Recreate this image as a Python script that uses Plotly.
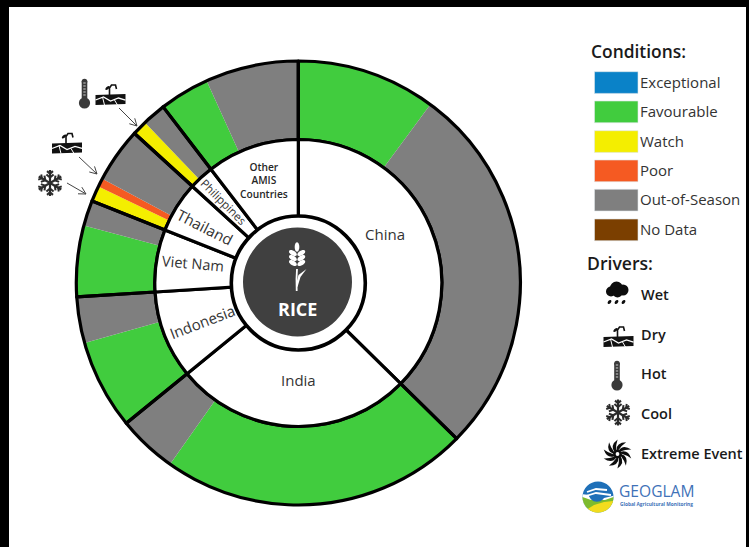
import math
import plotly.graph_objects as go

W, H = 749, 547

# ---- data (share of production, in degrees of the circle) ----
countries = ["China", "India", "Indonesia", "Viet Nam", "Thailand", "Philippines", "Other AMIS Countries"]
country_share = [134.5, 96.3, 35.6, 25.3, 20.7, 10.1, 37.5]

condition_names = ["Exceptional", "Favourable", "Watch", "Poor", "Out-of-Season", "No Data"]
condition_colors = ["#0A82C8", "#41CC3E", "#F4EE00", "#F55A22", "#7F7F7F", "#7B3F00"]

segment_condition = ["Favourable", "Out-of-Season",
                     "Favourable", "Out-of-Season",
                     "Favourable", "Out-of-Season",
                     "Favourable", "Out-of-Season",
                     "Watch", "Poor", "Out-of-Season",
                     "Watch", "Out-of-Season",
                     "Favourable", "Out-of-Season"]
segment_share = [36.5, 98.0,
                 80.8, 15.5,
                 23.5, 12.1,
                 18.6, 6.7,
                 4.1, 2.2, 14.4,
                 3.9, 6.2,
                 13.1, 24.4]

driver_names = ["Wet", "Dry", "Hot", "Cool", "Extreme Event"]

# ---- helpers: pixel position -> paper fraction ----
CX, CY, R_OUT, R_IN, R_HUB, R_DARK = 298.3, 283.0, 222.0, 143.5, 67.0, 54.5
color_of = dict(zip(condition_names, condition_colors))
shapes, annos = [], []


def px(x):
    return x / W


def py(y):
    return 1 - y / H


def domain(r):
    return dict(x=[px(CX - r), px(CX + r)], y=[py(CY + r), py(CY - r)])


def rect(x0, y0, x1, y1, fill, line=None, lw=0):
    shapes.append(dict(type="rect", xref="paper", yref="paper", x0=px(x0), x1=px(x1), y0=py(y0), y1=py(y1),
                       fillcolor=fill, line=dict(color=line or fill, width=lw)))


def circle(cx, cy, r, fill, line=None, lw=0):
    shapes.append(dict(type="circle", xref="paper", yref="paper", x0=px(cx - r), x1=px(cx + r),
                       y0=py(cy - r), y1=py(cy + r), fillcolor=fill,
                       line=dict(color=line or fill, width=lw)))


def path(d, fill="rgba(0,0,0,0)", line="rgba(0,0,0,0)", lw=0):
    shapes.append(dict(type="path", xref="paper", yref="paper", path=d, fillcolor=fill,
                       line=dict(color=line, width=lw)))


def poly(pts, fill):
    d = "M" + " L".join(f"{px(x):.5f},{py(y):.5f}" for x, y in pts) + " Z"
    path(d, fill=fill)


def polyline(pts, color, lw):
    d = "M" + " L".join(f"{px(x):.5f},{py(y):.5f}" for x, y in pts)
    path(d, line=color, lw=lw)


def ellipse(cx, cy, a, b, deg, fill, n=20):
    t = math.radians(deg)
    pts = []
    for i in range(n):
        u = 2 * math.pi * i / n
        x, y = a * math.cos(u), b * math.sin(u)
        pts.append((cx + x * math.cos(t) - y * math.sin(t), cy + x * math.sin(t) + y * math.cos(t)))
    poly(pts, fill)


def text(x, y, s, size, color="#333333", weight=400, angle=0, anchor="left", family="Open Sans"):
    annos.append(dict(xref="paper", yref="paper", x=px(x), y=py(y), text=s, showarrow=False,
                      xanchor=anchor, yanchor="middle", textangle=angle,
                      font=dict(family=family, size=size, color=color, weight=weight)))


def arrow(x0, y0, x1, y1):
    a = math.atan2(y1 - y0, x1 - x0)
    polyline([(x0, y0), (x1, y1)], "#444444", 1)
    for s in (-1, 1):
        b = a + math.pi + s * 0.5
        polyline([(x1, y1), (x1 + 8 * math.cos(b), y1 + 8 * math.sin(b))], "#444444", 1)


def thermometer(cx, top):
    rect(cx - 2.8, top + 2, cx + 2.8, top + 22, "#3a3a3a")
    circle(cx, top + 2.5, 2.8, "#3a3a3a")
    circle(cx, top + 24, 5.6, "#3a3a3a")
    for k in range(5):
        polyline([(cx - 1.2, top + 4 + 3 * k), (cx + 1.2, top + 4 + 3 * k)], "#cccccc", 1)


def dry(cx, cy):
    # slab
    poly([(cx - 15, cy + 1), (cx + 15, cy), (cx + 15, cy + 10), (cx - 15, cy + 11)], "#111111")
    polyline([(cx - 15, cy + 6), (cx - 7, cy + 3), (cx, cy + 7), (cx + 8, cy + 4), (cx + 15, cy + 6)], "white", 1.3)
    polyline([(cx - 8, cy + 3), (cx - 6, cy + 11)], "white", 1)
    polyline([(cx + 4, cy + 6), (cx + 7, cy + 11)], "white", 1)
    # sprout
    polyline([(cx - 1, cy + 1), (cx - 1, cy - 6), (cx + 1, cy - 9), (cx + 5, cy - 9), (cx + 6, cy - 5)], "#111111", 1.6)
    ellipse(cx - 3, cy - 6, 2.6, 1.3, -40, "#111111")


def snowflake(cx, cy, r):
    c = "#2b2b2b"
    for k in range(6):
        a = math.radians(60 * k + 90)
        ux, uy = math.cos(a), math.sin(a)
        polyline([(cx, cy), (cx + r * ux, cy + r * uy)], c, 2.2)
        for f, s in [(0.42, 0.36), (0.72, 0.3)]:
            bx, by = cx + f * r * ux, cy + f * r * uy
            for sgn in (-1, 1):
                b = a + sgn * math.radians(50)
                polyline([(bx, by), (bx + s * r * math.cos(b), by + s * r * math.sin(b))], c, 2)


def cloud(cx, cy):
    c = "#0d0d0d"
    for dx, dy, r in [(-6.5, 1.5, 5), (-1, -2, 6.5), (5.5, 0, 5.5), (0, 2.5, 5)]:
        circle(cx + dx, cy + dy, r, c)
    for dx in (-8, -1, 6):
        ellipse(cx + dx, cy + 12, 2.3, 1.5, -50, c)


def swirl(cx, cy, r):
    c = "#0d0d0d"
    n = 10
    for k in range(n):
        a = 2 * math.pi * k / n
        a2 = a + 0.95
        a3 = a + 0.45
        p0 = (cx + 0.25 * r * math.cos(a), cy + 0.25 * r * math.sin(a))
        p1 = (cx + r * math.cos(a2), cy + r * math.sin(a2))
        q1 = (cx + 0.8 * r * math.cos(a + 0.2), cy + 0.8 * r * math.sin(a + 0.2))
        p2 = (cx + 0.25 * r * math.cos(a + 0.5), cy + 0.25 * r * math.sin(a + 0.5))
        q2 = (cx + 0.64 * r * math.cos(a3 + 0.3), cy + 0.64 * r * math.sin(a3 + 0.3))
        d = (f"M{px(p0[0]):.5f},{py(p0[1]):.5f} Q{px(q1[0]):.5f},{py(q1[1]):.5f} {px(p1[0]):.5f},{py(p1[1]):.5f} "
             f"Q{px(q2[0]):.5f},{py(q2[1]):.5f} {px(p2[0]):.5f},{py(p2[1]):.5f} Z")
        path(d, fill=c)
    circle(cx, cy, r * 0.3, c)
    circle(cx, cy, r * 0.13, "white")


def wheat(cx, top):
    c = "white"
    ellipse(cx - 0.5, top + 6, 2.3, 4.8, 0, c)
    for i, dy in enumerate((13, 18, 23)):
        ellipse(cx - 4.6, top + dy - 1, 4.4, 2.3, 32, c)
        ellipse(cx + 3.8, top + dy - 1, 4.4, 2.3, -32, c)
    polyline([(cx - 0.5, top + 28), (cx - 1, top + 38), (cx - 0.8, top + 50)], c, 1.8)
    poly([(cx - 1.5, top + 44), (cx + 1, top + 34), (cx + 9, top + 28), (cx + 3, top + 36), (cx, top + 46)], c)


def logo(cx, cy, r):
    circle(cx, cy, r, "#1F70B8")
    arc = lambda a0, a1: [(cx + r * math.cos(math.radians(a)), cy + r * math.sin(math.radians(a)))
                          for a in [a0 + (a1 - a0) * i / 24 for i in range(25)]]
    poly(arc(-5, 190) + [(cx - 8, cy - 2), (cx + 6, cy + 1)], "white")
    poly(arc(0, 180) + [(cx - 7, cy + 3), (cx + 7, cy + 3)], "#7DBB2E")
    poly(arc(15, 130) + [(cx - 4, cy + 8), (cx + 6, cy + 5)], "#F2DC1E")
    circle(cx - 1, cy - 4, r * 0.56, "#1F70B8")
    polyline([(cx - 11, cy - 5), (cx - 2, cy - 8), (cx + 9, cy - 7)], "white", 1.8)
    polyline([(cx - 12, cy - 1), (cx - 2, cy - 4), (cx + 13, cy - 2)], "white", 1.8)


# ---- page frame ----
rect(0, 0, W, 7, "black")
rect(0, 0, 9, H, "black")
rect(746, 0, W, H, "black")

# ---- hub ----
circle(CX, CY, R_HUB, "white", "black", 3.6)
circle(297.5, 282, R_DARK, "#404040")
wheat(297.5, 241)

# ---- legend ----
swatch_y = [71.7, 101, 130.7, 160, 189.3, 219]
for name, col, y in zip(condition_names, condition_colors, swatch_y):
    rect(594.5, y, 638, y + 21.7, col, "#dfe6ea", 0.6)
    text(638, y + 10, name, 15)
text(589, 51, "Conditions:", 17.4, "#1a1a1a", 600)
text(585, 263, "Drivers:", 17.6, "#1a1a1a", 600)
for name, y in zip(driver_names, [294.5, 334, 373.5, 413, 453]):
    text(639, y, name, 14.5, "#1a1a1a", 600)

cloud(617.5, 290)
dry(618.5, 336)
thermometer(617, 361)
snowflake(618, 412.5, 13)
swirl(617.5, 454, 14.5)

# ---- drivers by the ring ----
thermometer(84.5, 79)
dry(110.5, 94)
dry(67, 142.5)
snowflake(50, 183, 13)
arrow(119, 108, 137, 126)
arrow(79, 157, 97, 174)
arrow(67, 183, 86, 194)

# ---- labels ----
text(385, 234, "China", 15, anchor="center")
text(298, 380, "India", 15, anchor="center")
text(201.5, 322, "Indonesia", 15, angle=-21, anchor="center")
text(193, 263, "Viet Nam", 14.6, angle=5, anchor="center")
text(205, 227, "Thailand", 15, angle=27, anchor="center")
text(223, 202, "Philippines", 11.5, angle=45, anchor="center")
text(264, 180, "Other<br>AMIS<br>Countries", 10.2, "#262626", 600, anchor="center")
text(297, 309, "RICE", 18, "white", 700, anchor="center")

# ---- logo ----
logo(598, 497, 15.5)
text(617, 490.5, "GEOGLAM", 15.6, "#3F72B8")
text(618, 504, "Global Agricultural Monitoring", 4.8, "#3F72B8", 700)

# ---- rings ----
fig = go.Figure()
fig.add_trace(go.Pie(values=segment_share, labels=[f"{i}" for i in range(len(segment_share))], sort=False,
                     direction="clockwise", rotation=0, hole=R_IN / R_OUT, domain=domain(R_OUT),
                     marker=dict(colors=[color_of[c] for c in segment_condition], line=dict(width=0)),
                     textinfo="none", hoverinfo="skip", showlegend=False))
fig.add_trace(go.Pie(values=country_share, labels=countries, sort=False,
                     direction="clockwise", rotation=0, hole=R_IN / R_OUT, domain=domain(R_OUT),
                     marker=dict(colors=["rgba(0,0,0,0)"] * len(countries), line=dict(color="black", width=3.2)),
                     textinfo="none", hoverinfo="skip", showlegend=False))
fig.add_trace(go.Pie(values=country_share, labels=countries, sort=False,
                     direction="clockwise", rotation=0, domain=domain(R_IN),
                     marker=dict(colors=["white"] * len(countries), line=dict(color="black", width=3.2)),
                     textinfo="none", hoverinfo="skip", showlegend=False))

fig.update_layout(width=W, height=H, margin=dict(l=0, r=0, t=0, b=0), paper_bgcolor="white",
                  plot_bgcolor="white", showlegend=False, shapes=shapes, annotations=annos)
fig.write_html("out.html", config=dict(displayModeBar=False),
               post_script="document.body.style.margin='0';document.documentElement.style.overflow='hidden';")
